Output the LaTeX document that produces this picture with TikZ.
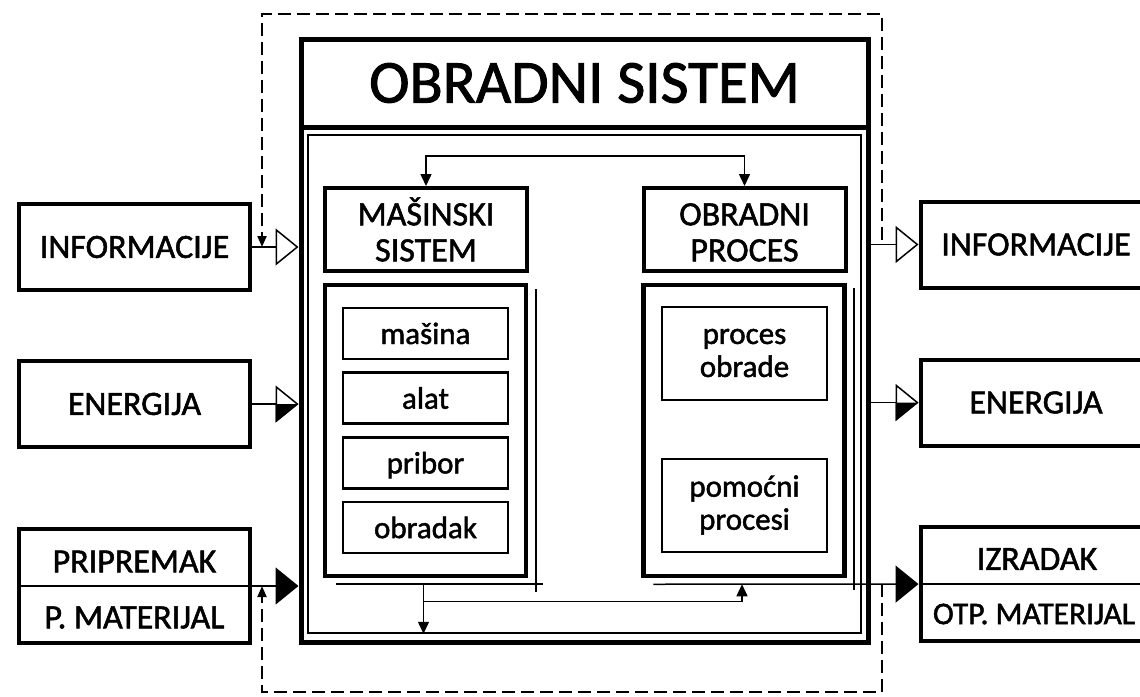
\documentclass[tikz,border=0pt]{standalone}
\usepackage{fontspec}
\setmainfont{Carlito}[FakeBold=1.5]
\usetikzlibrary{arrows.meta}

\begin{document}
\begin{tikzpicture}[x=1pt, y=-1pt, color=black,
      every node/.append style={align=center, inner sep=0pt},
      labeltext/.style={font=\fontsize{34}{36}\selectfont},
      outbox/.style={draw, labeltext, line width=4pt, minimum width=231pt, minimum height=86pt},
      headbox/.style={draw, labeltext, line width=4pt, minimum width=202pt, minimum height=83pt},
      partbox/.style={draw, line width=4.5pt, minimum width=201pt, minimum height=291pt},
      itembox/.style={draw, line width=2.5pt, minimum width=165pt, minimum height=51pt, text height=21pt, text depth=0pt, font=\fontsize{31}{33}\selectfont},
      procbox/.style={draw, line width=2pt, minimum width=165pt, minimum height=93pt, font=\fontsize{31}{33}\selectfont},
      thin/.style={line width=1.5pt},
      feed/.style={line width=2pt, dash pattern=on 13pt off 6pt, -{Triangle[length=11pt, width=9pt]}},
      infotip/.style={thin, -{Triangle[open, length=23pt, width=37pt]}},
      fulltip/.style={thin, -{Triangle[length=23pt, width=37pt]}},
      halftri/.pic={\fill (0,0) -- (-23,0) -- (-23,18.5) -- cycle;}]
    \useasboundingbox (0,0) rectangle (1140,696);
    \clip (0,0) rectangle (1140,696);
    % obradni sistem
    \node (mainbox) [draw, line width=5pt, minimum width=567pt, minimum height=603pt] at (584.5,340.5) {};
    \node (title) [draw, line width=5pt, minimum width=567pt, minimum height=88pt, font=\fontsize{61}{66}\selectfont] at (584.5,83) {OBRADNI SISTEM};
    \node (inner) [draw, thin, minimum width=553pt, minimum height=498pt] at (584.5,384) {};
    \node (msys) [headbox] at (426,229.5) {MAŠINSKI\\SISTEM};
    \node (oproc) [headbox] at (744.5,229.5) {\vphantom{Š}OBRADNI\\PROCES};
    \node (lpart) [partbox] at (425.5,430.5) {};
    \node (rpart) [partbox] at (744,430.5) {};
    \foreach \txt [count=\i] in {mašina, alat, pribor, obradak}
      \node (item\i) [itembox] at (425.5,{333.5+64.7*(\i-1)}) {\txt};
    \node (pobr) [procbox] at (744.5,353) {proces\\obrade};
    \node (ppom) [procbox] at (744.5,505) {pomoćni\\procesi};
    % ulazi i izlazi
    \node (infL) [outbox] at (134.5,247) {INFORMACIJE};
    \node (enL) [outbox] at (134.5,404) {ENERGIJA};
    \node (pm) [outbox, minimum height=114pt] at (134.5,586) {};
    \node (infR) [outbox] at (1036,244.5) {INFORMACIJE};
    \node (enR) [outbox] at (1036,402.5) {ENERGIJA};
    \node (iz) [outbox, minimum height=114pt] at (1036,584) {};
    \draw[line width=2pt] (pm.west) -- (pm.east);
    \draw[line width=2pt] (iz.west) -- (iz.east);
    \node (pmtop) [labeltext] at (134.5,561.5) {PRIPREMAK};
    \node (pmbot) [labeltext] at (134.5,617.5) {P. MATERIJAL};
    \node (iztop) [labeltext] at (1037,559) {IZRADAK};
    \node (izbot) [font=\fontsize{31.5}{36}\selectfont] at (1034,614) {OTP. MATERIJAL};
    % sjene
    \draw[line width=2pt] ([shift={(7.75,6.25)}]lpart.north east) -- ([shift={(7.75,13.75)}]lpart.south east);
    \draw[line width=2pt] ([shift={(13,6)}]lpart.south west) -- ([shift={(15,6)}]lpart.south east);
    \draw[line width=2pt] ([shift={(7,5)}]rpart.north east) -- ([shift={(7,12)}]rpart.south east);
    \coordinate (rshadow) at ([shift={(12,6)}]rpart.south west);
    \coordinate (drop) at ([shift={(-2,6)}]lpart.south);
    \coordinate (split) at ([shift={(-2,23)}]lpart.south);
    \coordinate (rise) at ([shift={(-2,6)}]rpart.south);
    % veze
    \draw[thin, {Triangle[length=12pt, width=11pt]}-{Triangle[length=12pt, width=11pt]}] (msys.north) -- ++(0,-30) -| (oproc.north);
    \draw[thin, -{Triangle[length=12pt, width=11pt]}] (drop) -- (drop |- inner.south);
    \draw[thin, -{Triangle[length=12pt, width=11pt]}] (split) -| (rise);
    \draw[infotip] (infL) -- (infL -| mainbox.west);
    \draw[infotip] (enL) -- (enL -| mainbox.west);
    \pic at (enL -| mainbox.west) {halftri};
    \draw[fulltip] (pm) -- (pm -| mainbox.west);
    \draw[infotip] (mainbox.east |- infR) -- (infR);
    \draw[infotip] (mainbox.east |- enR) -- (enR);
    \pic at (enR.west) {halftri};
    \draw[fulltip] (rshadow) -- (iz);
    % povratne veze
    \coordinate (fbA) at (882,240);
    \coordinate (fbB) at (262,247);
    \coordinate (fbC) at (882,584);
    \coordinate (fbD) at (262,586);
    \draw[feed] (fbA) -- ++(0,-226) -| (fbB);
    \draw[feed] (fbC) -- ++(0,108) -| (fbD);
\end{tikzpicture}
\end{document}
